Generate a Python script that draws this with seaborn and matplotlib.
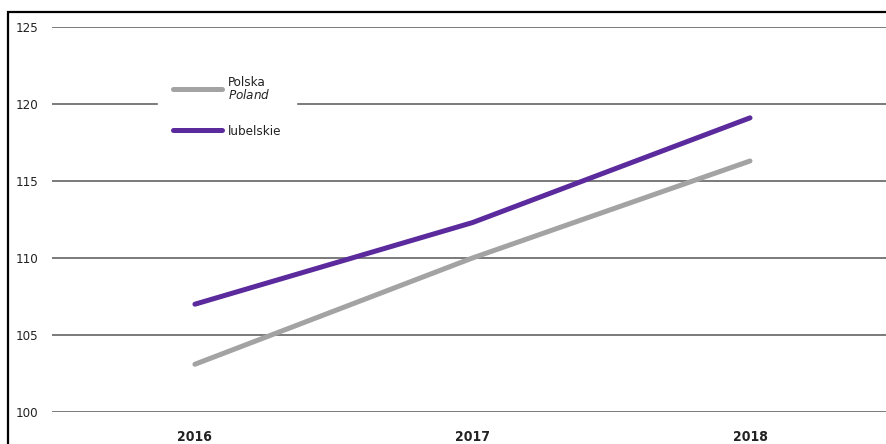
import matplotlib
matplotlib.use("Agg")
import matplotlib.pyplot as plt
from matplotlib.patches import Rectangle
from matplotlib.lines import Line2D
import pandas as pd
import seaborn as sns

years = ["2016", "2017", "2018"]
polska = [103.1, 110.0, 116.3]
lubelskie = [107.0, 112.3, 119.1]
series_names = ["Polska", "lubelskie"]
y_ticks = [100, 105, 110, 115, 120, 125]

df = pd.DataFrame({
    "rok": years * 2,
    "wartosc": polska + lubelskie,
    "seria": [series_names[0]] * 3 + [series_names[1]] * 3,
})
palette = {"Polska": "#a3a3a3", "lubelskie": "#5b2a9c"}

sns.set_style("white")
plt.rcParams["font.family"] = ["DejaVu Sans"]
plt.rcParams["font.stretch"] = "condensed"

fig = plt.figure(figsize=(8.86, 4.44), dpi=100)
ax = fig.add_axes([52 / 886, (444 - 412) / 444, (886 - 52) / 886, (412 - 27) / 444])
ax.set_zorder(1)

sns.lineplot(data=df, x="rok", y="wartosc", hue="seria", palette=palette,
             linewidth=3.6, ax=ax, legend=False, sort=False)
for ln in ax.lines:
    ln.set_solid_capstyle("round")

ax.set_ylim(100, 125)
ax.set_xlim(-0.515, 2.49)
ax.set_yticks(y_ticks)
ax.set_yticklabels([str(t) for t in y_ticks], ha="left")
ax.tick_params(axis="y", length=0, pad=26, labelsize=9.5, labelcolor="#222222")
ax.tick_params(axis="x", length=0, pad=13, labelsize=10, labelcolor="#222222")
for lab in ax.get_xticklabels():
    lab.set_fontweight("bold")
ax.set_xlabel("")
ax.set_ylabel("")
ax.grid(axis="y", color="#7a7a7a", linewidth=1.4)
ax.grid(axis="x", visible=False)
ax.set_axisbelow(True)
for s in ax.spines.values():
    s.set_visible(False)

# legend box with white background
handles = [Line2D([0], [0], color=palette["Polska"], lw=3.6, solid_capstyle="round"),
           Line2D([0], [0], color=palette["lubelskie"], lw=3.6, solid_capstyle="round")]
leg = ax.legend(handles, ["Polska\n$\\it{Poland}$", "lubelskie"], loc="upper left",
                bbox_to_anchor=((158 - 52) / 834, (412 - 61) / 385), frameon=True,
                handlelength=3.7, handletextpad=0.45, labelspacing=1.7,
                fontsize=9.6, borderpad=1.1, borderaxespad=0)
leg.get_frame().set_facecolor("white")
leg.get_frame().set_edgecolor("white")
leg.get_frame().set_alpha(1)
for t in leg.get_texts():
    t.set_linespacing(0.95)
    t.set_color("#222222")

# outer frame
fig.patches.append(Rectangle((8 / 886, -0.05), 1.0, (444 - 12) / 444 + 0.05,
                             transform=fig.transFigure, fill=False,
                             edgecolor="black", linewidth=1.6))

fig.savefig("out.png", dpi=100)
